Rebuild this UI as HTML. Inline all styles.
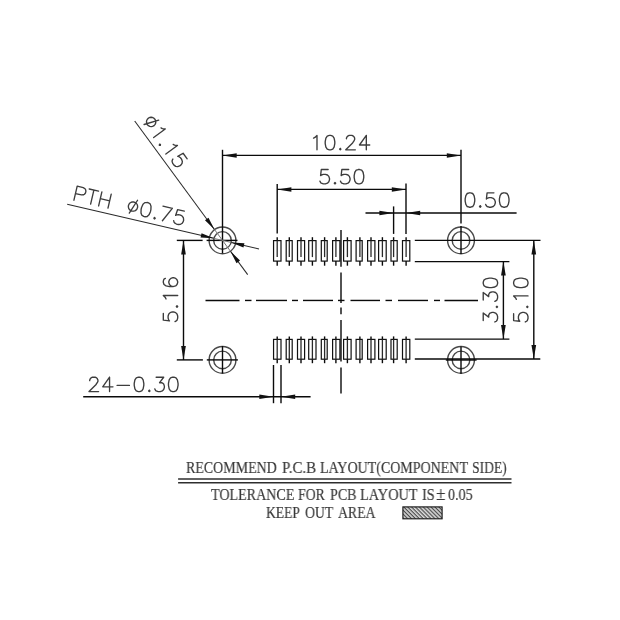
<!DOCTYPE html>
<html><head><meta charset="utf-8"><title>PCB layout</title>
<style>
html,body{margin:0;padding:0;background:#fff;}
body{width:620px;height:620px;position:relative;overflow:hidden;font-family:"Liberation Serif",serif;}
svg{position:absolute;left:0;top:0;}
.l{stroke:#0a0a0a;stroke-width:1.4;fill:none;}
.d{stroke:#2a2a2a;stroke-width:1.05;fill:none;}
.g{stroke:#2a2a2a;stroke-width:1.3;fill:none;}
.f{stroke:#777;stroke-width:1;fill:none;}
.c{filter:url(#b);stroke:#484848;stroke-width:1.4;fill:none;}
.p{stroke:#111;stroke-width:1.2;fill:#fff;}
.a{fill:#111;stroke:none;}
.t{filter:url(#b);stroke:#3c3c3c;stroke-width:1.35;fill:none;stroke-linecap:round;stroke-linejoin:round;}
.s{position:absolute;white-space:nowrap;will-change:transform;opacity:0.999;color:#383838;-webkit-text-stroke:0.15px #383838;filter:blur(0.3px);font-size:15.5px;line-height:1;transform-origin:0 0;}
</style></head><body>
<svg width="620" height="620" viewBox="0 0 620 620">
<defs><filter id="b" x="-5%" y="-5%" width="110%" height="110%"><feGaussianBlur stdDeviation="0.35"/></filter><pattern id="h" x="0.5" width="3" height="2.75" patternUnits="userSpaceOnUse" patternTransform="rotate(45)"><rect width="3" height="3" fill="#dcdcdc"/><line x1="0" y1="1.5" x2="3" y2="1.5" stroke="#4a4a4a" stroke-width="1.2"/></pattern></defs>
<circle class="c" cx="222.50" cy="240.40" r="13.40"/>
<circle class="c" cx="222.50" cy="240.40" r="8.80"/>
<circle class="c" cx="461.00" cy="240.40" r="13.40"/>
<circle class="c" cx="461.00" cy="240.40" r="8.80"/>
<circle class="c" cx="222.50" cy="359.90" r="13.40"/>
<circle class="c" cx="222.50" cy="359.90" r="8.80"/>
<circle class="c" cx="461.00" cy="359.90" r="13.40"/>
<circle class="c" cx="461.00" cy="359.90" r="8.80"/>
<line class="l" x1="222.50" y1="149.80" x2="222.50" y2="253.30"/>
<line class="l" x1="206.60" y1="240.40" x2="237.50" y2="240.40"/>
<line class="l" x1="461.00" y1="149.80" x2="461.00" y2="223.50"/>
<line class="l" x1="461.00" y1="226.00" x2="461.00" y2="254.00"/>
<line class="l" x1="222.50" y1="346.00" x2="222.50" y2="373.40"/>
<line class="l" x1="206.80" y1="359.90" x2="237.90" y2="359.90"/>
<line class="l" x1="461.00" y1="346.50" x2="461.00" y2="373.70"/>
<line class="l" x1="445.80" y1="360.00" x2="476.60" y2="360.00"/>
<line class="l" x1="222.50" y1="155.40" x2="461.00" y2="155.40"/>
<polygon class="a" points="222.50,155.40 236.70,153.15 236.70,157.65"/>
<polygon class="a" points="461.00,155.40 446.80,157.65 446.80,153.15"/>
<path class="t" d="M313.56 138.16 L314.93 137.47 L316.99 135.42 L316.99 149.80 M329.31 135.42 L327.26 136.10 L325.89 138.16 L325.20 141.58 L325.20 143.64 L325.89 147.06 L327.26 149.12 L329.31 149.80 L330.69 149.80 L332.74 149.12 L334.11 147.06 L334.80 143.64 L334.80 141.58 L334.11 138.16 L332.74 136.10 L330.69 135.42 L329.31 135.42 M340.27 148.43 L339.59 149.12 L340.27 149.80 L340.96 149.12 L340.27 148.43 M346.44 138.84 L346.44 138.16 L347.12 136.79 L347.81 136.10 L349.18 135.42 L351.92 135.42 L353.29 136.10 L353.98 136.79 L354.66 138.16 L354.66 139.53 L353.98 140.90 L352.61 142.95 L345.75 149.80 L355.34 149.80 M366.31 135.42 L359.45 145.01 L369.73 145.01 M366.31 135.42 L366.31 149.80"/>
<line class="l" x1="277.20" y1="184.00" x2="277.20" y2="233.60"/>
<line class="l" x1="406.00" y1="183.60" x2="406.00" y2="233.90"/>
<line class="l" x1="277.20" y1="189.40" x2="406.00" y2="189.40"/>
<polygon class="a" points="277.20,189.40 291.40,187.15 291.40,191.65"/>
<polygon class="a" points="406.00,189.40 391.80,191.65 391.80,187.15"/>
<path class="t" d="M328.13 169.52 L321.29 169.52 L320.60 175.68 L321.29 175.00 L323.34 174.31 L325.40 174.31 L327.45 175.00 L328.82 176.37 L329.50 178.42 L329.50 179.79 L328.82 181.84 L327.45 183.22 L325.40 183.90 L323.34 183.90 L321.29 183.22 L320.60 182.53 L319.92 181.16 M334.99 182.53 L334.30 183.22 L334.99 183.90 L335.67 183.22 L334.99 182.53 M348.69 169.52 L341.84 169.52 L341.15 175.68 L341.84 175.00 L343.89 174.31 L345.94 174.31 L348.00 175.00 L349.37 176.37 L350.06 178.42 L350.06 179.79 L349.37 181.84 L348.00 183.22 L345.94 183.90 L343.89 183.90 L341.84 183.22 L341.15 182.53 L340.47 181.16 M358.28 169.52 L356.22 170.20 L354.85 172.25 L354.17 175.68 L354.17 177.74 L354.85 181.16 L356.22 183.22 L358.28 183.90 L359.65 183.90 L361.70 183.22 L363.07 181.16 L363.75 177.74 L363.75 175.68 L363.07 172.25 L361.70 170.20 L359.65 169.52 L358.28 169.52"/>
<line class="l" x1="393.60" y1="206.40" x2="393.60" y2="233.90"/>
<line class="l" x1="365.50" y1="213.00" x2="516.60" y2="213.00"/>
<polygon class="a" points="393.60,213.00 379.40,215.25 379.40,210.75"/>
<polygon class="a" points="406.00,213.00 420.20,210.75 420.20,215.25"/>
<path class="t" d="M469.27 192.81 L467.21 193.50 L465.84 195.55 L465.16 198.98 L465.16 201.03 L465.84 204.46 L467.21 206.51 L469.27 207.20 L470.64 207.20 L472.69 206.51 L474.06 204.46 L474.75 201.03 L474.75 198.98 L474.06 195.55 L472.69 193.50 L470.64 192.81 L469.27 192.81 M480.23 205.83 L479.54 206.51 L480.23 207.20 L480.91 206.51 L480.23 205.83 M493.93 192.81 L487.08 192.81 L486.39 198.98 L487.08 198.29 L489.13 197.61 L491.19 197.61 L493.24 198.29 L494.61 199.66 L495.30 201.72 L495.30 203.09 L494.61 205.14 L493.24 206.51 L491.19 207.20 L489.13 207.20 L487.08 206.51 L486.39 205.83 L485.71 204.46 M503.52 192.81 L501.46 193.50 L500.09 195.55 L499.41 198.98 L499.41 201.03 L500.09 204.46 L501.46 206.51 L503.52 207.20 L504.89 207.20 L506.94 206.51 L508.31 204.46 L509.00 201.03 L509.00 198.98 L508.31 195.55 L506.94 193.50 L504.89 192.81 L503.52 192.81"/>
<line class="l" x1="414.80" y1="240.40" x2="540.50" y2="240.40"/>
<line class="l" x1="414.80" y1="261.60" x2="509.40" y2="261.60"/>
<line class="l" x1="414.80" y1="339.10" x2="509.40" y2="339.10"/>
<line class="l" x1="414.80" y1="359.00" x2="540.30" y2="359.00"/>
<line class="l" x1="503.40" y1="261.60" x2="503.40" y2="339.10"/>
<polygon class="a" points="503.40,261.60 505.75,275.60 501.05,275.60"/>
<polygon class="a" points="503.40,339.10 501.05,325.10 505.75,325.10"/>
<line class="l" x1="533.80" y1="240.40" x2="533.80" y2="359.00"/>
<polygon class="a" points="533.80,240.40 536.15,254.40 531.45,254.40"/>
<polygon class="a" points="533.80,359.00 531.45,345.00 536.15,345.00"/>
<path class="t" d="M483.22 320.57 L483.22 313.04 L488.70 317.15 L488.70 315.10 L489.38 313.73 L490.06 313.04 L492.12 312.36 L493.49 312.36 L495.55 313.04 L496.92 314.41 L497.60 316.46 L497.60 318.52 L496.92 320.57 L496.23 321.26 L494.86 321.94 M496.23 306.88 L496.92 307.56 L497.60 306.88 L496.92 306.19 L496.23 306.88 M483.22 300.02 L483.22 292.49 L488.70 296.60 L488.70 294.55 L489.38 293.18 L490.06 292.49 L492.12 291.81 L493.49 291.81 L495.55 292.49 L496.92 293.86 L497.60 295.92 L497.60 297.97 L496.92 300.02 L496.23 300.71 L494.86 301.39 M483.22 283.58 L483.90 285.64 L485.96 287.01 L489.38 287.69 L491.44 287.69 L494.86 287.01 L496.92 285.64 L497.60 283.58 L497.60 282.21 L496.92 280.16 L494.86 278.79 L491.44 278.11 L489.38 278.11 L485.96 278.79 L483.90 280.16 L483.22 282.21 L483.22 283.58"/>
<path class="t" d="M513.62 313.73 L513.62 320.57 L519.78 321.26 L519.10 320.57 L518.41 318.52 L518.41 316.46 L519.10 314.41 L520.47 313.04 L522.52 312.36 L523.89 312.36 L525.95 313.04 L527.32 314.41 L528.00 316.46 L528.00 318.52 L527.32 320.57 L526.63 321.26 L525.26 321.94 M526.63 306.88 L527.32 307.56 L528.00 306.88 L527.32 306.19 L526.63 306.88 M516.36 299.34 L515.67 297.97 L513.62 295.92 L528.00 295.92 M513.62 283.58 L514.30 285.64 L516.36 287.01 L519.78 287.69 L521.84 287.69 L525.26 287.01 L527.32 285.64 L528.00 283.58 L528.00 282.21 L527.32 280.16 L525.26 278.79 L521.84 278.11 L519.78 278.11 L516.36 278.79 L514.30 280.16 L513.62 282.21 L513.62 283.58"/>
<line class="l" x1="176.80" y1="240.40" x2="202.60" y2="240.40"/>
<line class="l" x1="176.80" y1="359.90" x2="202.90" y2="359.90"/>
<line class="l" x1="183.50" y1="240.40" x2="183.50" y2="359.90"/>
<polygon class="a" points="183.50,240.40 185.85,254.40 181.15,254.40"/>
<polygon class="a" points="183.50,359.90 181.15,345.90 185.85,345.90"/>
<path class="t" d="M163.31 313.33 L163.31 320.18 L169.48 320.86 L168.79 320.18 L168.11 318.12 L168.11 316.06 L168.79 314.01 L170.16 312.64 L172.22 311.96 L173.59 311.96 L175.64 312.64 L177.01 314.01 L177.70 316.06 L177.70 318.12 L177.01 320.18 L176.33 320.86 L174.96 321.55 M176.33 306.48 L177.01 307.16 L177.70 306.48 L177.01 305.79 L176.33 306.48 M166.05 298.94 L165.37 297.57 L163.31 295.52 L177.70 295.52 M165.37 278.39 L164.00 279.08 L163.31 281.13 L163.31 282.50 L164.00 284.56 L166.05 285.93 L169.48 286.61 L172.91 286.61 L175.64 285.93 L177.01 284.56 L177.70 282.50 L177.70 281.81 L177.01 279.76 L175.64 278.39 L173.59 277.71 L172.91 277.71 L170.85 278.39 L169.48 279.76 L168.79 281.81 L168.79 282.50 L169.48 284.56 L170.85 285.93 L172.91 286.61"/>
<line class="l" x1="273.50" y1="365.00" x2="273.50" y2="403.20"/>
<line class="l" x1="281.00" y1="365.00" x2="281.00" y2="403.20"/>
<line class="l" x1="83.20" y1="396.80" x2="310.60" y2="396.80"/>
<polygon class="a" points="273.50,396.80 259.30,399.05 259.30,394.55"/>
<polygon class="a" points="281.00,396.80 295.20,394.55 295.20,399.05"/>
<path class="t" d="M89.70 380.64 L89.70 379.96 L90.38 378.59 L91.07 377.90 L92.44 377.22 L95.18 377.22 L96.55 377.90 L97.23 378.59 L97.92 379.96 L97.92 381.33 L97.23 382.70 L95.86 384.75 L89.02 391.60 L98.60 391.60 M109.56 377.22 L102.71 386.81 L112.99 386.81 M109.56 377.22 L109.56 391.60 M117.10 385.44 L129.43 385.44 M138.34 377.22 L136.28 377.90 L134.91 379.96 L134.22 383.38 L134.22 385.44 L134.91 388.86 L136.28 390.92 L138.34 391.60 L139.70 391.60 L141.76 390.92 L143.13 388.86 L143.81 385.44 L143.81 383.38 L143.13 379.96 L141.76 377.90 L139.70 377.22 L138.34 377.22 M149.30 390.23 L148.61 390.92 L149.30 391.60 L149.98 390.92 L149.30 390.23 M156.14 377.22 L163.68 377.22 L159.57 382.70 L161.62 382.70 L163.00 383.38 L163.68 384.06 L164.37 386.12 L164.37 387.49 L163.68 389.55 L162.31 390.92 L160.25 391.60 L158.20 391.60 L156.14 390.92 L155.46 390.23 L154.78 388.86 M172.58 377.22 L170.53 377.90 L169.16 379.96 L168.47 383.38 L168.47 385.44 L169.16 388.86 L170.53 390.92 L172.58 391.60 L173.95 391.60 L176.01 390.92 L177.38 388.86 L178.06 385.44 L178.06 383.38 L177.38 379.96 L176.01 377.90 L173.95 377.22 L172.58 377.22"/>
<line class="l" x1="205.50" y1="300.45" x2="239.50" y2="300.45"/>
<line class="l" x1="245.00" y1="300.45" x2="251.50" y2="300.45"/>
<line class="l" x1="256.00" y1="300.45" x2="287.00" y2="300.45"/>
<line class="l" x1="292.00" y1="300.45" x2="298.00" y2="300.45"/>
<line class="l" x1="303.00" y1="300.45" x2="333.00" y2="300.45"/>
<line class="l" x1="338.00" y1="300.45" x2="344.50" y2="300.45"/>
<line class="l" x1="350.50" y1="300.45" x2="380.00" y2="300.45"/>
<line class="l" x1="385.50" y1="300.45" x2="392.00" y2="300.45"/>
<line class="l" x1="398.00" y1="300.45" x2="428.00" y2="300.45"/>
<line class="l" x1="434.00" y1="300.45" x2="440.00" y2="300.45"/>
<line class="l" x1="444.50" y1="300.45" x2="478.00" y2="300.45"/>
<line class="l" x1="341.00" y1="230.00" x2="341.00" y2="266.80"/>
<line class="l" x1="341.00" y1="272.40" x2="341.00" y2="303.00"/>
<line class="l" x1="341.00" y1="307.40" x2="341.00" y2="314.20"/>
<line class="l" x1="341.00" y1="320.00" x2="341.00" y2="361.60"/>
<line class="l" x1="341.00" y1="367.40" x2="341.00" y2="393.50"/>
<rect class="p" x="273.56" y="240.60" width="7.44" height="20.50"/>
<line class="l" x1="277.20" y1="237.20" x2="277.20" y2="240.60"/>
<line class="l" x1="277.20" y1="261.10" x2="277.20" y2="265.70"/>
<line class="g" x1="277.20" y1="240.60" x2="277.20" y2="257.10"/>
<rect class="p" x="273.56" y="339.40" width="7.44" height="19.80"/>
<line class="l" x1="277.20" y1="336.40" x2="277.20" y2="339.40"/>
<line class="l" x1="277.20" y1="359.20" x2="277.20" y2="363.20"/>
<line class="g" x1="277.20" y1="339.40" x2="277.20" y2="359.20"/>
<rect class="p" x="286.20" y="240.60" width="6.00" height="20.50"/>
<line class="l" x1="289.30" y1="237.20" x2="289.30" y2="240.60"/>
<line class="l" x1="289.30" y1="261.10" x2="289.30" y2="265.70"/>
<line class="g" x1="289.30" y1="240.60" x2="289.30" y2="257.10"/>
<rect class="p" x="286.20" y="339.40" width="6.00" height="19.80"/>
<line class="l" x1="289.30" y1="336.40" x2="289.30" y2="339.40"/>
<line class="l" x1="289.30" y1="359.20" x2="289.30" y2="363.20"/>
<line class="g" x1="289.30" y1="339.40" x2="289.30" y2="359.20"/>
<rect class="p" x="297.50" y="240.60" width="7.10" height="20.50"/>
<line class="l" x1="301.00" y1="237.20" x2="301.00" y2="240.60"/>
<line class="l" x1="301.00" y1="261.10" x2="301.00" y2="265.70"/>
<line class="g" x1="301.00" y1="240.60" x2="301.00" y2="257.10"/>
<rect class="p" x="297.50" y="339.40" width="7.10" height="19.80"/>
<line class="l" x1="301.00" y1="336.40" x2="301.00" y2="339.40"/>
<line class="l" x1="301.00" y1="359.20" x2="301.00" y2="363.20"/>
<line class="g" x1="301.00" y1="339.40" x2="301.00" y2="359.20"/>
<rect class="p" x="308.70" y="240.60" width="7.30" height="20.50"/>
<line class="l" x1="312.40" y1="237.20" x2="312.40" y2="240.60"/>
<line class="l" x1="312.40" y1="261.10" x2="312.40" y2="265.70"/>
<line class="g" x1="312.40" y1="240.60" x2="312.40" y2="257.10"/>
<rect class="p" x="308.70" y="339.40" width="7.30" height="19.80"/>
<line class="l" x1="312.40" y1="336.40" x2="312.40" y2="339.40"/>
<line class="l" x1="312.40" y1="359.20" x2="312.40" y2="363.20"/>
<line class="g" x1="312.40" y1="339.40" x2="312.40" y2="359.20"/>
<rect class="p" x="321.30" y="240.60" width="5.90" height="20.50"/>
<line class="l" x1="324.60" y1="237.20" x2="324.60" y2="240.60"/>
<line class="l" x1="324.60" y1="261.10" x2="324.60" y2="265.70"/>
<line class="g" x1="324.60" y1="240.60" x2="324.60" y2="257.10"/>
<rect class="p" x="321.30" y="339.40" width="5.90" height="19.80"/>
<line class="l" x1="324.60" y1="336.40" x2="324.60" y2="339.40"/>
<line class="l" x1="324.60" y1="359.20" x2="324.60" y2="363.20"/>
<line class="g" x1="324.60" y1="339.40" x2="324.60" y2="359.20"/>
<rect class="p" x="332.60" y="240.60" width="7.30" height="20.50"/>
<line class="l" x1="335.90" y1="237.20" x2="335.90" y2="240.60"/>
<line class="l" x1="335.90" y1="261.10" x2="335.90" y2="265.70"/>
<line class="g" x1="335.90" y1="240.60" x2="335.90" y2="257.10"/>
<rect class="p" x="332.60" y="339.40" width="7.30" height="19.80"/>
<line class="l" x1="335.90" y1="336.40" x2="335.90" y2="339.40"/>
<line class="l" x1="335.90" y1="359.20" x2="335.90" y2="363.20"/>
<line class="g" x1="335.90" y1="339.40" x2="335.90" y2="359.20"/>
<rect class="p" x="343.60" y="240.60" width="7.50" height="20.50"/>
<line class="l" x1="347.40" y1="237.20" x2="347.40" y2="240.60"/>
<line class="l" x1="347.40" y1="261.10" x2="347.40" y2="265.70"/>
<line class="g" x1="347.40" y1="240.60" x2="347.40" y2="257.10"/>
<rect class="p" x="343.60" y="339.40" width="7.50" height="19.80"/>
<line class="l" x1="347.40" y1="336.40" x2="347.40" y2="339.40"/>
<line class="l" x1="347.40" y1="359.20" x2="347.40" y2="363.20"/>
<line class="g" x1="347.40" y1="339.40" x2="347.40" y2="359.20"/>
<rect class="p" x="356.10" y="240.60" width="6.10" height="20.50"/>
<line class="l" x1="359.90" y1="237.20" x2="359.90" y2="240.60"/>
<line class="l" x1="359.90" y1="261.10" x2="359.90" y2="265.70"/>
<line class="g" x1="359.90" y1="240.60" x2="359.90" y2="257.10"/>
<rect class="p" x="356.10" y="339.40" width="6.10" height="19.80"/>
<line class="l" x1="359.90" y1="336.40" x2="359.90" y2="339.40"/>
<line class="l" x1="359.90" y1="359.20" x2="359.90" y2="363.20"/>
<line class="g" x1="359.90" y1="339.40" x2="359.90" y2="359.20"/>
<rect class="p" x="367.60" y="240.60" width="7.30" height="20.50"/>
<line class="l" x1="371.00" y1="237.20" x2="371.00" y2="240.60"/>
<line class="l" x1="371.00" y1="261.10" x2="371.00" y2="265.70"/>
<line class="g" x1="371.00" y1="240.60" x2="371.00" y2="257.10"/>
<rect class="p" x="367.60" y="339.40" width="7.30" height="19.80"/>
<line class="l" x1="371.00" y1="336.40" x2="371.00" y2="339.40"/>
<line class="l" x1="371.00" y1="359.20" x2="371.00" y2="363.20"/>
<line class="g" x1="371.00" y1="339.40" x2="371.00" y2="359.20"/>
<rect class="p" x="378.60" y="240.60" width="7.60" height="20.50"/>
<line class="l" x1="382.40" y1="237.20" x2="382.40" y2="240.60"/>
<line class="l" x1="382.40" y1="261.10" x2="382.40" y2="265.70"/>
<line class="g" x1="382.40" y1="240.60" x2="382.40" y2="257.10"/>
<rect class="p" x="378.60" y="339.40" width="7.60" height="19.80"/>
<line class="l" x1="382.40" y1="336.40" x2="382.40" y2="339.40"/>
<line class="l" x1="382.40" y1="359.20" x2="382.40" y2="363.20"/>
<line class="g" x1="382.40" y1="339.40" x2="382.40" y2="359.20"/>
<rect class="p" x="391.00" y="240.60" width="6.20" height="20.50"/>
<line class="l" x1="393.60" y1="237.20" x2="393.60" y2="240.60"/>
<line class="l" x1="393.60" y1="261.10" x2="393.60" y2="265.70"/>
<line class="g" x1="393.60" y1="240.60" x2="393.60" y2="257.10"/>
<rect class="p" x="391.00" y="339.40" width="6.20" height="19.80"/>
<line class="l" x1="393.60" y1="336.40" x2="393.60" y2="339.40"/>
<line class="l" x1="393.60" y1="359.20" x2="393.60" y2="363.20"/>
<line class="g" x1="393.60" y1="339.40" x2="393.60" y2="359.20"/>
<rect class="p" x="402.50" y="240.60" width="7.30" height="20.50"/>
<line class="l" x1="406.10" y1="237.20" x2="406.10" y2="240.60"/>
<line class="l" x1="406.10" y1="261.10" x2="406.10" y2="265.70"/>
<line class="g" x1="406.10" y1="240.60" x2="406.10" y2="257.10"/>
<rect class="p" x="402.50" y="339.40" width="7.30" height="19.80"/>
<line class="l" x1="406.10" y1="336.40" x2="406.10" y2="339.40"/>
<line class="l" x1="406.10" y1="359.20" x2="406.10" y2="363.20"/>
<line class="g" x1="406.10" y1="339.40" x2="406.10" y2="359.20"/>
<line class="d" x1="134.70" y1="121.00" x2="214.44" y2="229.44"/>
<line class="f" x1="214.44" y1="229.44" x2="230.56" y2="251.36"/>
<line class="d" x1="230.56" y1="251.36" x2="247.68" y2="274.64"/>
<polygon class="a" points="214.44,229.44 204.97,220.27 208.51,217.67"/>
<polygon class="a" points="230.56,251.36 240.03,260.53 236.49,263.13"/>
<path class="t" d="M153.90 125.69 L154.93 124.65 L155.58 123.35 L155.80 121.91 L155.56 120.47 L154.89 119.17 L153.86 118.15 L152.56 117.50 L151.11 117.28 L149.68 117.51 L148.38 118.18 L147.36 119.22 L146.70 120.52 L146.48 121.96 L146.72 123.40 L147.39 124.69 L148.43 125.72 L149.73 126.37 L151.17 126.59 L152.61 126.36 L153.90 125.69 M144.09 124.48 L158.72 120.10 M161.02 127.85 L162.38 128.55 L165.25 128.99 L153.67 137.51 M160.45 144.42 L159.49 144.28 L159.35 145.23 L160.30 145.38 L160.45 144.42 M173.19 144.41 L174.56 145.10 L177.43 145.54 L165.84 154.06 M187.17 158.79 L183.11 153.27 L177.74 156.37 L178.70 156.51 L180.46 157.76 L181.68 159.42 L182.35 161.48 L182.06 163.40 L180.81 165.17 L179.70 165.98 L177.64 166.64 L175.73 166.35 L173.96 165.10 L172.74 163.45 L172.07 161.38 L172.22 160.43 L172.92 159.06"/>
<line class="d" x1="67.20" y1="204.30" x2="213.73" y2="238.36"/>
<line class="f" x1="213.73" y1="238.36" x2="231.27" y2="242.44"/>
<line class="d" x1="231.27" y1="242.44" x2="259.03" y2="248.89"/>
<polygon class="a" points="213.73,238.36 200.57,237.56 201.57,233.28"/>
<polygon class="a" points="231.27,242.44 244.43,243.24 243.43,247.52"/>
<path class="t" d="M77.20 186.21 L73.94 200.22 M77.20 186.21 L83.20 187.60 L85.05 188.74 L85.56 189.56 L85.92 191.05 L85.45 193.05 L84.47 194.23 L83.65 194.74 L81.49 194.94 L75.49 193.55 M93.88 190.09 L90.62 204.10 M89.21 189.00 L98.55 191.17 M101.88 191.95 L98.63 205.96 M111.22 194.12 L107.97 208.13 M100.33 198.62 L109.67 200.79"/>
<path class="t" d="M137.53 207.62 L137.63 206.16 L137.28 204.75 L136.51 203.51 L135.39 202.57 L134.04 202.02 L132.59 201.92 L131.18 202.27 L129.94 203.04 L129.00 204.16 L128.45 205.51 L128.35 206.96 L128.70 208.38 L129.47 209.61 L130.58 210.55 L131.93 211.10 L133.39 211.20 L134.80 210.85 L136.04 210.08 L136.98 208.97 L137.53 207.62 M129.29 213.09 L137.55 200.24 M146.96 202.43 L144.80 202.63 L143.00 204.32 L141.56 207.50 L141.10 209.50 L140.99 212.99 L141.86 215.30 L143.70 216.44 L145.04 216.75 L147.19 216.55 L148.99 214.85 L150.44 211.67 L150.90 209.67 L151.01 206.18 L150.14 203.87 L148.30 202.74 L146.96 202.43 M154.69 217.58 L153.87 218.10 L154.38 218.92 L155.20 218.41 L154.69 217.58 M172.31 208.32 L162.39 220.78 M162.97 206.15 L172.31 208.32 M184.32 211.11 L177.65 209.56 L175.59 215.41 L176.41 214.90 L178.57 214.70 L180.57 215.16 L182.42 216.29 L183.44 217.94 L183.64 220.09 L183.33 221.43 L182.20 223.28 L180.56 224.30 L178.40 224.50 L176.40 224.04 L174.55 222.90 L174.04 222.08 L173.68 220.59"/>
<line x1="178.1" y1="479.0" x2="511.5" y2="479.0" stroke="#2e2e2e" stroke-width="1.4"/>
<line x1="178.1" y1="482.75" x2="511.5" y2="482.75" stroke="#2e2e2e" stroke-width="1.4"/>
<rect x="402.9" y="506.9" width="39.2" height="11.9" fill="url(#h)" stroke="#1a1a1a" stroke-width="1.15"/>
</svg>
<div class="s" style="left:186.40px;top:460.00px;font-size:16.0px;transform:scaleX(0.8716)">RECOMMEND</div>
<div class="s" style="left:281.77px;top:460.00px;font-size:16.0px;transform:scaleX(0.9359)">P.C.B</div>
<div class="s" style="left:319.90px;top:460.00px;font-size:16.0px;transform:scaleX(0.8746)">LAYOUT(COMPONENT</div>
<div class="s" style="left:472.14px;top:460.00px;font-size:16.0px;transform:scaleX(0.8503)">SIDE)</div>
<div class="s" style="left:210.98px;top:487.00px;font-size:16.0px;transform:scaleX(0.8803)">TOLERANCE</div>
<div class="s" style="left:298.31px;top:487.00px;font-size:16.0px;transform:scaleX(0.8573)">FOR</div>
<div class="s" style="left:329.70px;top:487.00px;font-size:16.0px;transform:scaleX(0.8765)">PCB</div>
<div class="s" style="left:360.49px;top:487.00px;font-size:16.0px;transform:scaleX(0.8956)">LAYOUT</div>
<div class="s" style="left:421.69px;top:487.00px;font-size:16.0px;transform:scaleX(0.8899)">IS</div>
<div class="s" style="left:435.97px;top:484.49px;font-size:19px;transform:scaleX(0.9192)">±</div>
<div class="s" style="left:448.06px;top:487.00px;font-size:16.0px;transform:scaleX(0.8793)">0.05</div>
<div class="s" style="left:266.12px;top:505.00px;font-size:16.0px;transform:scaleX(0.8495)">KEEP</div>
<div class="s" style="left:304.53px;top:505.00px;font-size:16.0px;transform:scaleX(0.8608)">OUT</div>
<div class="s" style="left:337.80px;top:505.00px;font-size:16.0px;transform:scaleX(0.8623)">AREA</div>

</body></html>
